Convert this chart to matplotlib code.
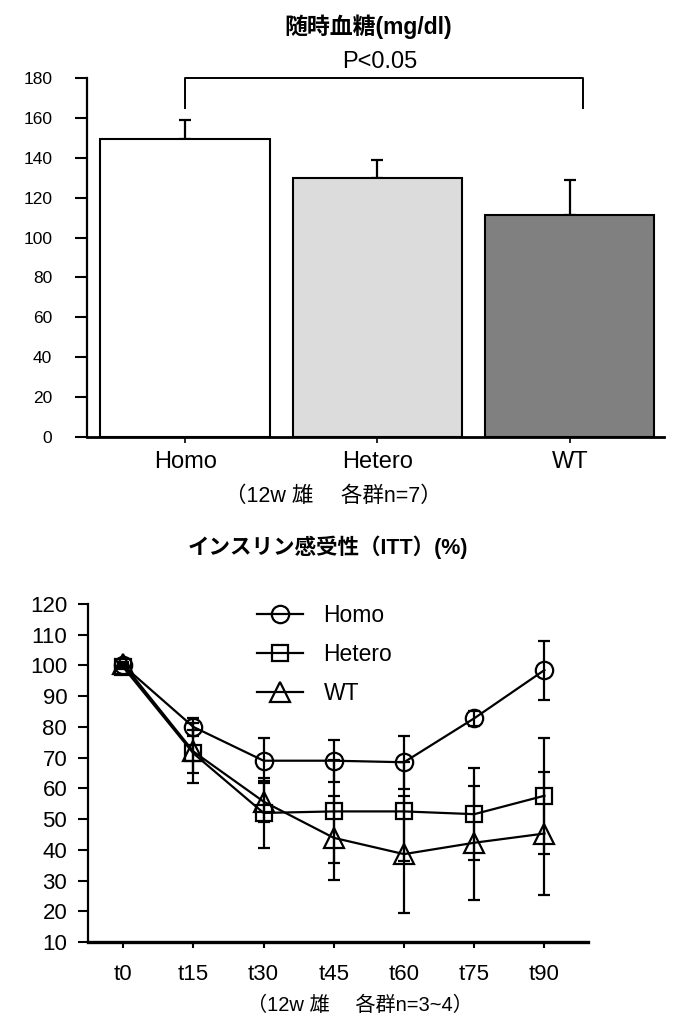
import numpy as np
import matplotlib
matplotlib.use("Agg")
import matplotlib.pyplot as plt
from matplotlib.lines import Line2D

plt.rcParams['font.family'] = ['Liberation Sans', 'Noto Sans CJK JP', 'DejaVu Sans']

# --- data: random blood glucose (mg/dl) ---
groups = ["Homo", "Hetero", "WT"]
glucose = [149.3, 130.1, 111.5]
glucose_err = [9.8, 8.8, 17.3]
bar_colors = ["#ffffff", "#dcdcdc", "#808080"]

# --- data: ITT (%) ---
times = ["t0", "t15", "t30", "t45", "t60", "t75", "t90"]
homo = [100.0, 80.0, 69.0, 69.0, 68.5, 82.8, 98.5]
homo_err = [0.5, 3.0, 7.3, 6.8, 8.6, 2.5, 9.6]
hetero = [99.5, 71.4, 52.0, 52.5, 52.5, 51.6, 57.6]
hetero_err = [0.5, 9.8, 11.5, 16.8, 16.0, 15.0, 18.8]
wt = [100.5, 72.0, 55.7, 43.9, 38.6, 42.3, 45.3]
wt_err = [0.5, 7.0, 6.8, 13.6, 19.0, 18.6, 20.0]

W, H = 678, 1028
fig = plt.figure(figsize=(W / 100, H / 100), dpi=100)
fig.patch.set_facecolor("white")


def fy(px):
    return 1 - px / H


# ---------------- top: bar chart ----------------
ax1 = fig.add_axes([87 / W, fy(437), (664 - 87) / W, (437 - 78) / H])
x = np.arange(len(groups))
ax1.errorbar(x, glucose, yerr=[[0] * len(x), glucose_err], fmt="none",
             ecolor="black", elinewidth=1.6, capsize=4.5, capthick=1.6, zorder=1)
ax1.bar(x, glucose, width=0.88, color=bar_colors, edgecolor="black",
        linewidth=1.5, zorder=2)
ax1.set_xlim(-0.51, 2.49)
ax1.set_ylim(0, 180)
ax1.set_yticks(np.arange(0, 181, 20))
ax1.set_xticks(x)
ax1.set_xticklabels(groups, fontsize=17)
ax1.tick_params(axis="y", direction="out", length=9, width=1.5, labelsize=12.5, pad=16)
ax1.tick_params(axis="x", direction="out", length=4, width=1.2, pad=6)
for s in ["top", "right"]:
    ax1.spines[s].set_visible(False)
ax1.spines["left"].set_linewidth(1.6)
ax1.spines["bottom"].set_linewidth(2.0)

# significance bracket Homo vs WT
bx0, bx1 = x[0], x[2] + 0.07
ax1.plot([bx0, bx0, bx1, bx1], [165, 180, 180, 165], color="black",
         lw=1.4, clip_on=False)
fig.text(380 / W, fy(62), "P<0.05", ha="center", va="center", fontsize=17)
fig.text(368 / W, fy(27), "随時血糖(mg/dl)", ha="center", va="center",
         fontsize=16.5, fontweight="bold")
fig.text(333 / W, fy(496), "（12w 雄　 各群n=7）", ha="center", va="center", fontsize=15.5)

# ---------------- bottom: ITT ----------------
fig.text(328 / W, fy(547), "インスリン感受性（ITT）(%)", ha="center", va="center",
         fontsize=15.5, fontweight="bold")
ax2 = fig.add_axes([88 / W, fy(942), (588 - 88) / W, (942 - 604) / H])
t = np.arange(len(times))
series = [(homo, homo_err, "o", 12.5, "Homo"),
          (hetero, hetero_err, "s", 11.5, "Hetero"),
          (wt, wt_err, "^", 14, "WT")]
handles = []
for vals, errs, mk, ms, lab in series:
    style = dict(color="black", lw=1.6, marker=mk, markersize=ms,
                 markerfacecolor="none", markeredgecolor="black", markeredgewidth=1.6)
    ax2.errorbar(t, vals, yerr=errs, elinewidth=1.6, capsize=4, capthick=1.6, **style)
    handles.append(Line2D([], [], label=lab, **style))
ax2.set_xlim(-0.5, 6.62)
ax2.set_ylim(10, 120)
ax2.set_yticks(np.arange(10, 121, 10))
ax2.set_xticks(t)
ax2.set_xticklabels(times)
ax2.tick_params(axis="y", direction="out", length=7, width=1.5, labelsize=16, pad=8)
ax2.tick_params(axis="x", direction="out", length=4, width=1.5, labelsize=16, pad=12)
for s in ["top", "right"]:
    ax2.spines[s].set_visible(False)
ax2.spines["left"].set_linewidth(1.6)
ax2.spines["bottom"].set_linewidth(2.4)

ax2.legend(handles=handles, loc="upper left", bbox_to_anchor=(0.338, 1.0),
           frameon=False, fontsize=16.5, handlelength=2.0, handletextpad=0.9,
           labelspacing=0.7, borderpad=0, borderaxespad=0)
fig.text(360 / W, fy(1005), "（12w 雄　 各群n=3~4）", ha="center", va="center", fontsize=14.5)

fig.savefig("out.png", dpi=100)
